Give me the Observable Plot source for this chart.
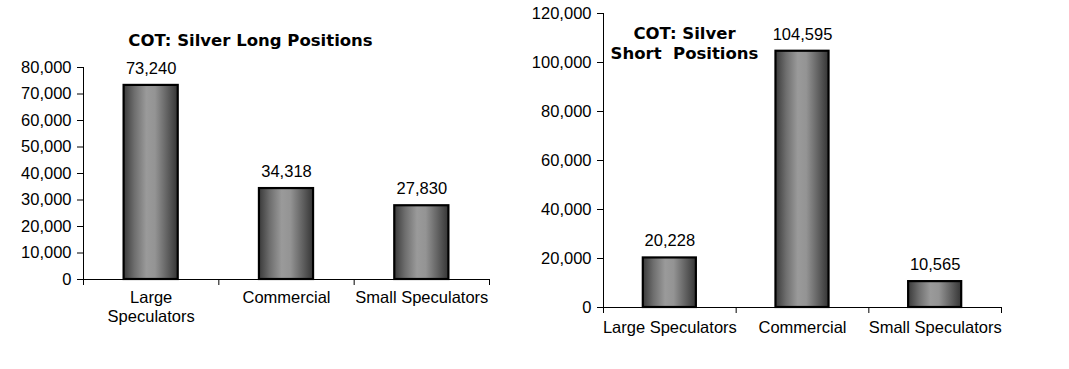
<!DOCTYPE html>
<html><head><meta charset="utf-8">
<script src="https://cdn.jsdelivr.net/npm/d3@7"></script>
<script src="https://cdn.jsdelivr.net/npm/@observablehq/plot@0.6"></script>
<style>
body{margin:0;background:#fff;}
#wrap{position:relative;width:1069px;height:369px;overflow:hidden;}
#left{position:absolute;left:0;top:0;}
#right{position:absolute;left:520px;top:0;}
text{white-space:pre;}
</style></head><body>
<div id="wrap"><div id="left"></div><div id="right"></div></div>
<script>
const categories = ["Large Speculators", "Commercial", "Small Speculators"];
const longValues = [73240, 34318, 27830];
const shortValues = [20228, 104595, 10565];
const longTickLabels = ["Large\nSpeculators", "Commercial", "Small Speculators"];
const shortTickLabels = ["Large Speculators", "Commercial", "Small Speculators"];
const longYTicks = [0, 10000, 20000, 30000, 40000, 50000, 60000, 70000, 80000];
const shortYTicks = [0, 20000, 40000, 60000, 80000, 100000, 120000];
const longTitle = "COT: Silver Long Positions";
const shortTitle = "COT: Silver\nShort  Positions";

const fmt = d3.format(",");
const FS = 16.5;

function chart(o) {
  const data = categories.map((c, i) => ({c, i, v: o.values[i], label: o.tickLabels[i]}));
  const svg = Plot.plot({
    width: o.width, height: 369,
    marginLeft: o.marginLeft, marginRight: o.marginRight,
    marginTop: o.marginTop, marginBottom: o.marginBottom,
    style: {fontFamily: "'Liberation Sans', Arial, sans-serif", fontSize: FS + "px", color: "#000", background: "transparent", overflow: "visible"},
    x: {domain: [0, categories.length], axis: null},
    y: {domain: [0, o.yTicks[o.yTicks.length - 1]], axis: null},
    marks: [
      Plot.rectY(data, {x1: d => d.i + 0.3, x2: d => d.i + 0.7, y1: 0, y2: "v", fill: `url(#${o.gradId})`, stroke: "#000", strokeWidth: 2.2}),
      Plot.ruleX([0], {stroke: "#000", strokeWidth: 1}),
      Plot.ruleY([0], {stroke: "#000", strokeWidth: 1}),
      Plot.axisY({ticks: o.yTicks, tickFormat: fmt, tickSize: 6, tickPadding: 6, fontSize: FS, label: null, stroke: "#000"}),
      Plot.axisX({ticks: d3.range(categories.length + 1), tickFormat: () => "", tickSize: 6, label: null, stroke: "#000"}),
      Plot.text(data, {x: d => d.i + 0.5, y: 0, text: "label", lineAnchor: "top", dy: o.labelDy, fontSize: FS, lineHeight: 1.15, fill: "#000"}),
      Plot.text(data, {x: d => d.i + 0.5, y: "v", text: d => fmt(d.v), dy: -17, lineAnchor: "middle", fontSize: FS, fill: "#000"}),
      Plot.text([o.title], {text: d => d, frameAnchor: "top-left", dx: o.titleDx, dy: o.titleDy, textAnchor: "middle", lineAnchor: "middle", fontWeight: "bold", fontFamily: "'DejaVu Sans', Verdana, sans-serif", fontSize: 16.5, lineHeight: 1.2, fill: "#000"})
    ]
  });
  const defs = d3.select(svg).insert("defs", ":first-child");
  const g = defs.append("linearGradient").attr("id", o.gradId).attr("x1", 0).attr("x2", 1).attr("y1", 0).attr("y2", 0);
  [[0, "#3a3a3a"], [0.2, "#6e6e6e"], [0.42, "#9a9a9a"], [0.58, "#949494"], [0.82, "#5e5e5e"], [1, "#353535"]]
    .forEach(([off, col]) => g.append("stop").attr("offset", off).attr("stop-color", col));
  return svg;
}

document.getElementById("left").appendChild(chart({
  values: longValues, tickLabels: longTickLabels, yTicks: longYTicks, title: longTitle,
  width: 520, marginLeft: 83, marginRight: 31, marginTop: 67, marginBottom: 90,
  titleDx: 167, titleDy: -28, labelDy: 10, gradId: "gradL"
}));
document.getElementById("right").appendChild(chart({
  values: shortValues, tickLabels: shortTickLabels, yTicks: shortYTicks, title: shortTitle,
  width: 549, marginLeft: 83, marginRight: 68, marginTop: 13, marginBottom: 62,
  titleDx: 81, titleDy: 29, labelDy: 12, gradId: "gradR"
}));
</script>
</body></html>
